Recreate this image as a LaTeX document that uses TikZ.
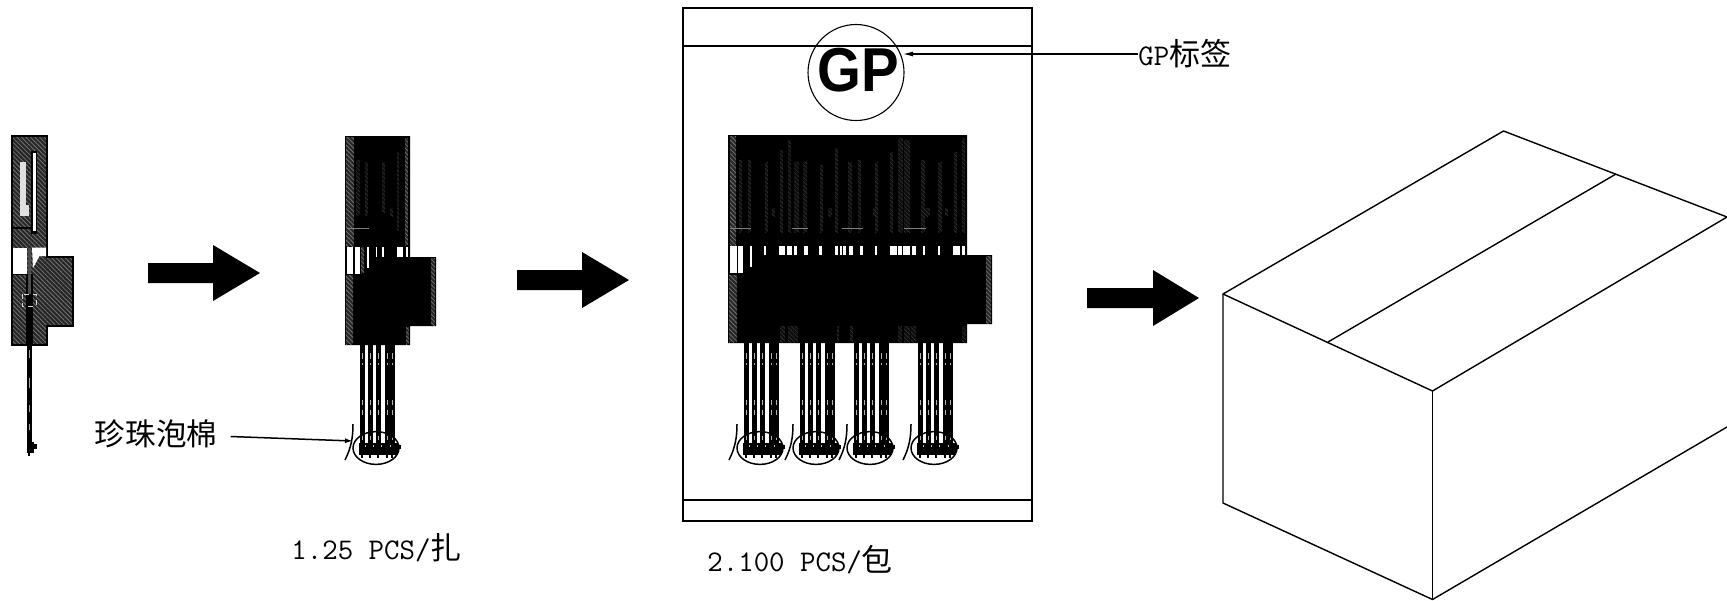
\documentclass[tikz,border=0pt]{standalone}
\usepackage{graphicx}
\usepackage{fontspec}
\newfontfamily\cjk{Noto Sans CJK SC}
\newfontfamily\gpfont{Liberation Sans}
\newfontfamily\latinm{Latin Modern Mono}
\usetikzlibrary{patterns.meta,arrows.meta}
\tikzset{
  hatchdark/.style={fill=black!85,postaction={pattern={Lines[angle=-45,distance=1.6pt,line width=.4pt]},pattern color=black!55}},
  hatchstrip/.style={fill=black!85,postaction={pattern={Lines[angle=-45,distance=1.5pt,line width=.35pt]},pattern color=black!55}},
  hatchfaint/.style={fill=black!95,postaction={pattern={Lines[angle=-45,distance=1.5pt,line width=.25pt]},pattern color=black!78}},
  outline/.style={draw=black,line width=1pt},
  bagline/.style={draw=black,line width=.95pt},
  boxline/.style={draw=black,line width=.7pt,line join=round},
  thinline/.style={draw=black,line width=.55pt},
  foamline/.style={draw=black,line width=.75pt},
  bigarrow/.style={fill=black},
  label/.style={inner sep=0pt,anchor=west,font=\fontsize{15}{16}\latinm},
  gplab/.style={inner sep=0pt,anchor=center,font=\fontsize{31}{34}\gpfont\bfseries},
}
\newcommand{\BigArrow}[4]{% x0, xbase, xtip, ymid
  \fill[bigarrow] (#1,#4-10) -- (#2,#4-10) -- (#2,#4-28) -- (#3,#4) -- (#2,#4+28) -- (#2,#4+10) -- (#1,#4+10) -- cycle;}
\newcommand{\WireGroup}[1]{%
\begin{scope}[shift={(#1,0)}]
  \foreach \w in {0,8,16,25,30}{
    \fill[black] (\w-.3,343) rectangle (\w+4.6,444);
    \foreach \a/\b in {353/359,363/365,400/405,410/415,436/440}{
      \fill[black!30] (\w+1.6,\a) rectangle (\w+2.6,\b);}
    \fill[black] (\w+.8,450) rectangle (\w+3.2,457.5);
  }
  \fill[black] (-1,443) rectangle (38,454.5);
  \foreach \w in {5,13,21,30}{\fill[black!25] (\w,444.5) rectangle (\w+1,447);}
  \fill[black] (38,444.5) rectangle (41,449);
  \draw[foamline] (16,448) ellipse [x radius=11.5pt,y radius=8.2pt];
  \draw[foamline] (-7,424) .. controls (-7,438) and (-9,448) .. (-15,460);
\end{scope}}
\begin{document}
\begin{tikzpicture}[x=.5pt,y=-.5pt]
\useasboundingbox (0,0) rectangle (1727,600);

% ---------- item 1 ----------
\path[hatchdark] (12,136) -- (47,136) -- (47,257) -- (73,257) -- (73,326) -- (47,326) -- (47,345) -- (12,345) -- cycle;
\draw[outline] (12,136) -- (47,136) -- (47,257) -- (73,257) -- (73,326) -- (47,326) -- (47,345) -- (12,345) -- cycle;
\fill[black] (31,151) rectangle (37,234);
\fill[white] (32.5,153) rectangle (35.5,231);
\draw[black,line width=.6pt] (12,228) -- (31,228);
\fill[black!12] (20,162) rectangle (26,205);
\fill[black!12] (20,205) rectangle (29,216);
\fill[white] (13,247.5) rectangle (26.5,274);
\fill[white] (32,247.5) -- (46,247.5) -- (46,256) -- (39.5,256) -- (33,268) -- cycle;
\draw[black,line width=.8pt] (12,274.5) -- (27,274.5);
\fill[black] (26,274) rectangle (33,345);
\fill[black!70] (27.5,248) rectangle (30.5,294);
\draw[black!15,line width=.4pt,dash pattern=on 2.5pt off 2pt] (22,294) rectangle (36,306);
\fill[black] (27,345) rectangle (31.5,445);
\foreach \a/\b in {350/358,378/388,405/412,424/430}{\fill[black!35] (28.7,\a) rectangle (29.8,\b);}
\fill[black] (27,442) rectangle (34,453);
\fill[black] (34,444) rectangle (37,449);
\fill[black] (28,453) rectangle (30,456);

% ---------- item 2 ----------
\fill[black] (345,136) -- (410,136) -- (410,257) -- (436,257) -- (436,326) -- (410,326) -- (410,345) -- (345,345) -- cycle;
\path[hatchdark] (346,137) rectangle (354,246);
\path[hatchdark] (346,275) rectangle (353,344);
\path[hatchfaint] (356,160) rectangle (360,215);
\path[hatchfaint] (365,162) rectangle (368,215);
\path[hatchfaint] (382,162) rectangle (385,212);
\path[hatchfaint] (397,152) rectangle (399,230);
\path[hatchstrip] (405,138) rectangle (408,245);
\path[hatchfaint] (390,208) rectangle (393,216);
\path[hatchstrip] (431,258) rectangle (435,325);
\path[hatchstrip] (406,327) rectangle (409,344);
\fill[black!50] (347,227.5) rectangle (369,228.5);
\foreach \a/\b in {347/353,355/360}{\fill[white] (\a,247) rectangle (\b,274);}
\fill[white] (367,247) rectangle (369,268);
\foreach \a/\b in {376/377,382/384,397/403,405.5/408}{\fill[white] (\a,247) rectangle (\b,256.5);}
\path[hatchstrip] (361,247) rectangle (364,273);
\WireGroup{360}

% ---------- foam callout ----------
\node[inner sep=0pt,anchor=center,font=\fontsize{15.3}{18}\cjk] (foamlabel) at (156,433.5) {珍珠泡棉};
\coordinate (foamtip) at (353,441);
\draw[foamline,-{Latex[length=4pt,width=2.5pt]}] (foamlabel.east)+(13,3) -- (foamtip);
\node[label] (step1) at (291,548) {1.25 PCS/{\fontsize{15.5}{18}\cjk 扎}};

% ---------- bag ----------
\draw[bagline] (683,8) rectangle (1032,521);
\draw[bagline] (683,46) -- (1032,46);
\draw[bagline] (683,500) -- (1032,500);
\node[circle,thinline,minimum size=48pt,inner sep=0pt] (gpcircle) at (856,72.5) {};
\node[gplab] (gptext) at (858.5,70.5) {\scalebox{.91}[1]{GP}};
\node[inner sep=0pt,anchor=west,font=\fontsize{15.5}{18}\cjk] (gplabel) at (1138,54) {{\fontsize{15}{16}\latinm GP}标签};
\coordinate (gptip) at (903,54);
\draw[thinline,-{Latex[length=5pt,width=2.5pt]}] (gplabel.west) -- (gptip);

\fill[black] (728,135) -- (967,135) -- (967,255) -- (992,255) -- (992,324) -- (967,324) -- (967,343) -- (728,343) -- cycle;
\path[hatchdark] (730,136) rectangle (736,246);
\path[hatchdark] (729,275) rectangle (737,342);
\foreach \a/\b/\t in {739/742/160,748/751/160,765/768/162,780/783/150,788/791/140,794/799/162,803/807/162,820/823/165,835/838/148,848/852/162,858/861/160,875/878/162,890/893/152,898/903/138,904/910/140,921/925/160,938/942/162,954/957/152,962/965/138}{
  \path[hatchfaint] (\a,\t) rectangle (\b,232);}
\foreach \a/\b in {772/775,828/832,873/878,925/930,945/948}{\path[hatchfaint] (\a,208) rectangle (\b,216);}
\foreach \a/\b in {730/751,792/808,842/863,904/926}{\fill[black!50] (\a,227.5) rectangle (\b,228.5);}
\path[hatchstrip] (986,256) rectangle (991,323);
\foreach \a/\b in {780/785,788/798,837/839,850/853,898/902,904/910,911/916,962/966}{\path[hatchfaint] (\a,326) rectangle (\b,342);}
\fill[white] (730,246) rectangle (737,273);
\fill[white] (738,246) rectangle (743,273);
\fill[white] (749.5,246) rectangle (751.5,267);
\foreach \a/\b in {245/252,285/300,305/318,325/333,350/360,390/398,430/440,445/450,452/460,467/478,497/503,535/540,575/592,597/605,610/628,632/643,660/665,700/705,740/757,762/770}{
  \fill[white] ({670+\a/2.613},246) rectangle ({670+\b/2.613},255);}
\foreach \g in {744,800,854,918}{\WireGroup{\g}}
\node[label] (step2) at (707,560) {2.100 PCS/{\fontsize{15.5}{18}\cjk 包}};

% ---------- arrows ----------
\BigArrow{148}{213}{260}{273}
\BigArrow{517}{582}{629}{280}
\BigArrow{1087}{1153}{1199}{298}

% ---------- carton ----------
\coordinate (ca) at (1223,294);
\coordinate (cb) at (1503.5,131);
\coordinate (cc) at (1432.5,391);
\coordinate (cd) at (1432.5,599.5);
\coordinate (ce) at (1223,503);
\coordinate (cf) at (1727,217);
\coordinate (cg) at (1727,427);
\coordinate (ch) at (1328,342);
\coordinate (ci) at (1616,174);
\draw[boxline] (cf) -- (cb) -- (ca) -- (cc) -- (cf);
\draw[boxline] (ca) -- (ce) -- (cd) -- (cg);
\draw[boxline] (cc) -- (cd);
\draw[boxline] (ch) -- (ci);
\end{tikzpicture}
\end{document}
